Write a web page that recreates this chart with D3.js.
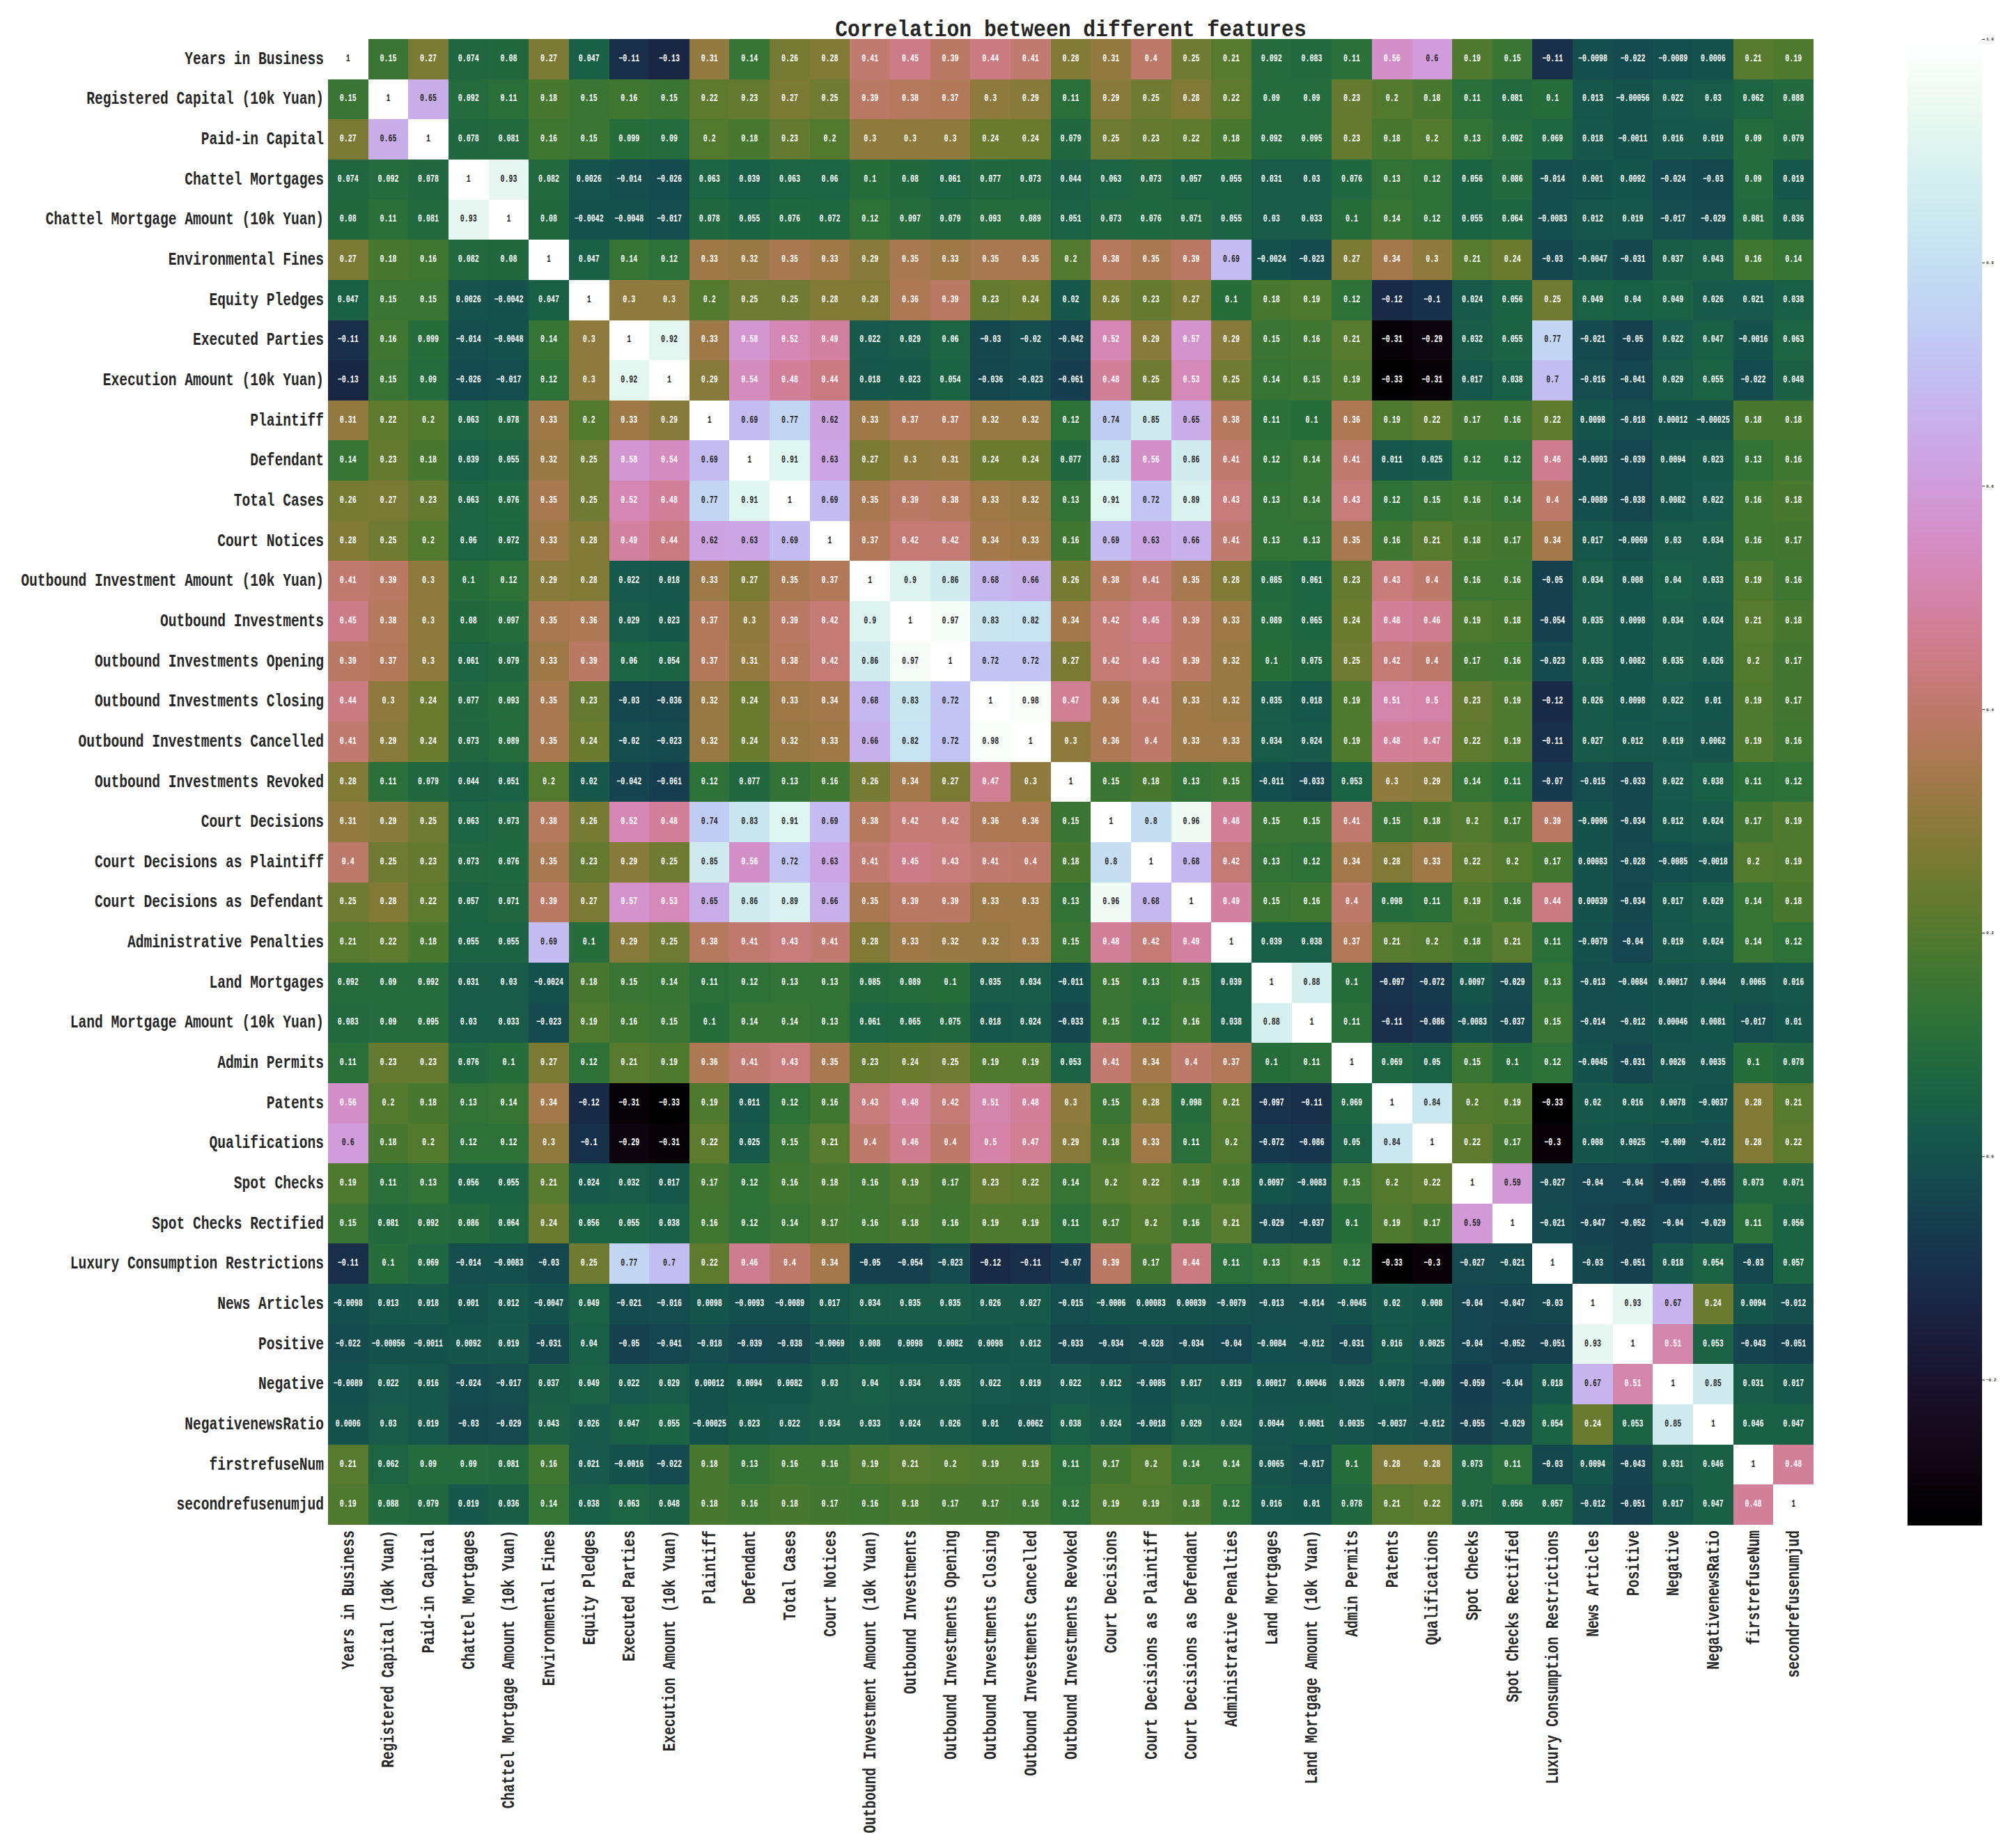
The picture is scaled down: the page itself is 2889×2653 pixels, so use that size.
<!DOCTYPE html>
<html>
<head>
<meta charset="utf-8">
<script src="https://d3js.org/d3.v7.min.js"></script>
<style>
  body { margin: 0; background: #fff; }
  text { font-family: "Liberation Mono", monospace; fill: #262626; }
</style>
</head>
<body>
<div id="chart-container"></div>
<script>
// Correlation heatmap of company features
const features = [
  "Years in Business", "Registered Capital (10k Yuan)", "Paid-in Capital", "Chattel Mortgages",
  "Chattel Mortgage Amount (10k Yuan)", "Environmental Fines", "Equity Pledges", "Executed Parties",
  "Execution Amount (10k Yuan)", "Plaintiff", "Defendant", "Total Cases", "Court Notices",
  "Outbound Investment Amount (10k Yuan)", "Outbound Investments", "Outbound Investments Opening",
  "Outbound Investments Closing", "Outbound Investments Cancelled", "Outbound Investments Revoked",
  "Court Decisions", "Court Decisions as Plaintiff", "Court Decisions as Defendant",
  "Administrative Penalties", "Land Mortgages", "Land Mortgage Amount (10k Yuan)", "Admin Permits",
  "Patents", "Qualifications", "Spot Checks", "Spot Checks Rectified",
  "Luxury Consumption Restrictions", "News Articles", "Positive", "Negative", "NegativenewsRatio",
  "firstrefuseNum", "secondrefusenumjud"
];

const corr = [
  [1,.15,.27,.074,.08,.27,.047,-.11,-.13,.31,.14,.26,.28,.41,.45,.39,.44,.41,.28,.31,.4,.25,.21,.092,.083,.11,.56,.6,.19,.15,-.11,-.0098,-.022,-.0089,.0006,.21,.19],
  [.15,1,.65,.092,.11,.18,.15,.16,.15,.22,.23,.27,.25,.39,.38,.37,.3,.29,.11,.29,.25,.28,.22,.09,.09,.23,.2,.18,.11,.081,.1,.013,-.00056,.022,.03,.062,.088],
  [.27,.65,1,.078,.081,.16,.15,.099,.09,.2,.18,.23,.2,.3,.3,.3,.24,.24,.079,.25,.23,.22,.18,.092,.095,.23,.18,.2,.13,.092,.069,.018,-.0011,.016,.019,.09,.079],
  [.074,.092,.078,1,.93,.082,.0026,-.014,-.026,.063,.039,.063,.06,.1,.08,.061,.077,.073,.044,.063,.073,.057,.055,.031,.03,.076,.13,.12,.056,.086,-.014,.001,.0092,-.024,-.03,.09,.019],
  [.08,.11,.081,.93,1,.08,-.0042,-.0048,-.017,.078,.055,.076,.072,.12,.097,.079,.093,.089,.051,.073,.076,.071,.055,.03,.033,.1,.14,.12,.055,.064,-.0083,.012,.019,-.017,-.029,.081,.036],
  [.27,.18,.16,.082,.08,1,.047,.14,.12,.33,.32,.35,.33,.29,.35,.33,.35,.35,.2,.38,.35,.39,.69,-.0024,-.023,.27,.34,.3,.21,.24,-.03,-.0047,-.031,.037,.043,.16,.14],
  [.047,.15,.15,.0026,-.0042,.047,1,.3,.3,.2,.25,.25,.28,.28,.36,.39,.23,.24,.02,.26,.23,.27,.1,.18,.19,.12,-.12,-.1,.024,.056,.25,.049,.04,.049,.026,.021,.038],
  [-.11,.16,.099,-.014,-.0048,.14,.3,1,.92,.33,.58,.52,.49,.022,.029,.06,-.03,-.02,-.042,.52,.29,.57,.29,.15,.16,.21,-.31,-.29,.032,.055,.77,-.021,-.05,.022,.047,-.0016,.063],
  [-.13,.15,.09,-.026,-.017,.12,.3,.92,1,.29,.54,.48,.44,.018,.023,.054,-.036,-.023,-.061,.48,.25,.53,.25,.14,.15,.19,-.33,-.31,.017,.038,.7,-.016,-.041,.029,.055,-.022,.048],
  [.31,.22,.2,.063,.078,.33,.2,.33,.29,1,.69,.77,.62,.33,.37,.37,.32,.32,.12,.74,.85,.65,.38,.11,.1,.36,.19,.22,.17,.16,.22,.0098,-.018,.00012,-.00025,.18,.18],
  [.14,.23,.18,.039,.055,.32,.25,.58,.54,.69,1,.91,.63,.27,.3,.31,.24,.24,.077,.83,.56,.86,.41,.12,.14,.41,.011,.025,.12,.12,.46,-.0093,-.039,.0094,.023,.13,.16],
  [.26,.27,.23,.063,.076,.35,.25,.52,.48,.77,.91,1,.69,.35,.39,.38,.33,.32,.13,.91,.72,.89,.43,.13,.14,.43,.12,.15,.16,.14,.4,-.0089,-.038,.0082,.022,.16,.18],
  [.28,.25,.2,.06,.072,.33,.28,.49,.44,.62,.63,.69,1,.37,.42,.42,.34,.33,.16,.69,.63,.66,.41,.13,.13,.35,.16,.21,.18,.17,.34,.017,-.0069,.03,.034,.16,.17],
  [.41,.39,.3,.1,.12,.29,.28,.022,.018,.33,.27,.35,.37,1,.9,.86,.68,.66,.26,.38,.41,.35,.28,.085,.061,.23,.43,.4,.16,.16,-.05,.034,.008,.04,.033,.19,.16],
  [.45,.38,.3,.08,.097,.35,.36,.029,.023,.37,.3,.39,.42,.9,1,.97,.83,.82,.34,.42,.45,.39,.33,.089,.065,.24,.48,.46,.19,.18,-.054,.035,.0098,.034,.024,.21,.18],
  [.39,.37,.3,.061,.079,.33,.39,.06,.054,.37,.31,.38,.42,.86,.97,1,.72,.72,.27,.42,.43,.39,.32,.1,.075,.25,.42,.4,.17,.16,-.023,.035,.0082,.035,.026,.2,.17],
  [.44,.3,.24,.077,.093,.35,.23,-.03,-.036,.32,.24,.33,.34,.68,.83,.72,1,.98,.47,.36,.41,.33,.32,.035,.018,.19,.51,.5,.23,.19,-.12,.026,.0098,.022,.01,.19,.17],
  [.41,.29,.24,.073,.089,.35,.24,-.02,-.023,.32,.24,.32,.33,.66,.82,.72,.98,1,.3,.36,.4,.33,.33,.034,.024,.19,.48,.47,.22,.19,-.11,.027,.012,.019,.0062,.19,.16],
  [.28,.11,.079,.044,.051,.2,.02,-.042,-.061,.12,.077,.13,.16,.26,.34,.27,.47,.3,1,.15,.18,.13,.15,-.011,-.033,.053,.3,.29,.14,.11,-.07,-.015,-.033,.022,.038,.11,.12],
  [.31,.29,.25,.063,.073,.38,.26,.52,.48,.74,.83,.91,.69,.38,.42,.42,.36,.36,.15,1,.8,.96,.48,.15,.15,.41,.15,.18,.2,.17,.39,-.0006,-.034,.012,.024,.17,.19],
  [.4,.25,.23,.073,.076,.35,.23,.29,.25,.85,.56,.72,.63,.41,.45,.43,.41,.4,.18,.8,1,.68,.42,.13,.12,.34,.28,.33,.22,.2,.17,.00083,-.028,-.0085,-.0018,.2,.19],
  [.25,.28,.22,.057,.071,.39,.27,.57,.53,.65,.86,.89,.66,.35,.39,.39,.33,.33,.13,.96,.68,1,.49,.15,.16,.4,.098,.11,.19,.16,.44,.00039,-.034,.017,.029,.14,.18],
  [.21,.22,.18,.055,.055,.69,.1,.29,.25,.38,.41,.43,.41,.28,.33,.32,.32,.33,.15,.48,.42,.49,1,.039,.038,.37,.21,.2,.18,.21,.11,-.0079,-.04,.019,.024,.14,.12],
  [.092,.09,.092,.031,.03,-.0024,.18,.15,.14,.11,.12,.13,.13,.085,.089,.1,.035,.034,-.011,.15,.13,.15,.039,1,.88,.1,-.097,-.072,.0097,-.029,.13,-.013,-.0084,.00017,.0044,.0065,.016],
  [.083,.09,.095,.03,.033,-.023,.19,.16,.15,.1,.14,.14,.13,.061,.065,.075,.018,.024,-.033,.15,.12,.16,.038,.88,1,.11,-.11,-.086,-.0083,-.037,.15,-.014,-.012,.00046,.0081,-.017,.01],
  [.11,.23,.23,.076,.1,.27,.12,.21,.19,.36,.41,.43,.35,.23,.24,.25,.19,.19,.053,.41,.34,.4,.37,.1,.11,1,.069,.05,.15,.1,.12,-.0045,-.031,.0026,.0035,.1,.078],
  [.56,.2,.18,.13,.14,.34,-.12,-.31,-.33,.19,.011,.12,.16,.43,.48,.42,.51,.48,.3,.15,.28,.098,.21,-.097,-.11,.069,1,.84,.2,.19,-.33,.02,.016,.0078,-.0037,.28,.21],
  [.6,.18,.2,.12,.12,.3,-.1,-.29,-.31,.22,.025,.15,.21,.4,.46,.4,.5,.47,.29,.18,.33,.11,.2,-.072,-.086,.05,.84,1,.22,.17,-.3,.008,.0025,-.009,-.012,.28,.22],
  [.19,.11,.13,.056,.055,.21,.024,.032,.017,.17,.12,.16,.18,.16,.19,.17,.23,.22,.14,.2,.22,.19,.18,.0097,-.0083,.15,.2,.22,1,.59,-.027,-.04,-.04,-.059,-.055,.073,.071],
  [.15,.081,.092,.086,.064,.24,.056,.055,.038,.16,.12,.14,.17,.16,.18,.16,.19,.19,.11,.17,.2,.16,.21,-.029,-.037,.1,.19,.17,.59,1,-.021,-.047,-.052,-.04,-.029,.11,.056],
  [-.11,.1,.069,-.014,-.0083,-.03,.25,.77,.7,.22,.46,.4,.34,-.05,-.054,-.023,-.12,-.11,-.07,.39,.17,.44,.11,.13,.15,.12,-.33,-.3,-.027,-.021,1,-.03,-.051,.018,.054,-.03,.057],
  [-.0098,.013,.018,.001,.012,-.0047,.049,-.021,-.016,.0098,-.0093,-.0089,.017,.034,.035,.035,.026,.027,-.015,-.0006,.00083,.00039,-.0079,-.013,-.014,-.0045,.02,.008,-.04,-.047,-.03,1,.93,.67,.24,.0094,-.012],
  [-.022,-.00056,-.0011,.0092,.019,-.031,.04,-.05,-.041,-.018,-.039,-.038,-.0069,.008,.0098,.0082,.0098,.012,-.033,-.034,-.028,-.034,-.04,-.0084,-.012,-.031,.016,.0025,-.04,-.052,-.051,.93,1,.51,.053,-.043,-.051],
  [-.0089,.022,.016,-.024,-.017,.037,.049,.022,.029,.00012,.0094,.0082,.03,.04,.034,.035,.022,.019,.022,.012,-.0085,.017,.019,.00017,.00046,.0026,.0078,-.009,-.059,-.04,.018,.67,.51,1,.85,.031,.017],
  [.0006,.03,.019,-.03,-.029,.043,.026,.047,.055,-.00025,.023,.022,.034,.033,.024,.026,.01,.0062,.038,.024,-.0018,.029,.024,.0044,.0081,.0035,-.0037,-.012,-.055,-.029,.054,.24,.053,.85,1,.046,.047],
  [.21,.062,.09,.09,.081,.16,.021,-.0016,-.022,.18,.13,.16,.16,.19,.21,.2,.19,.19,.11,.17,.2,.14,.14,.0065,-.017,.1,.28,.28,.073,.11,-.03,.0094,-.043,.031,.046,1,.48],
  [.19,.088,.079,.019,.036,.14,.038,.063,.048,.18,.16,.18,.17,.16,.18,.17,.17,.16,.12,.19,.19,.18,.12,.016,.01,.078,.21,.22,.071,.056,.057,-.012,-.051,.017,.047,.48,1]
];

const colorbarTicks = [-0.2, 0, 0.2, 0.4, 0.6, 0.8, 1];
const colorDomain = [-0.33, 1];
const chartTitle = "Correlation between different features";

const svgWidth = 2889, svgHeight = 2653;
const left = 471, right = 2604, top_ = 56, bottom = 2189;
const labelPitch = 11.75;   // the labels are narrow, fixed width glyphs

let svg = d3.select("#chart-container")
    .append("svg")
    .attr("width", svgWidth)
    .attr("height", svgHeight)
    .style("display", "block");

let x = d3.scaleBand().domain(features).range([left, right]);
let y = d3.scaleBand().domain(features).range([top_, bottom]);
let color = d3.scaleSequential(d3.interpolateCubehelixDefault).domain(colorDomain);

// seaborn picks the annotation colour from the luminance of the cell
function luminance(c) {
    let rgb = d3.rgb(c);
    let lin = [rgb.r, rgb.g, rgb.b].map(function(v) {
        v = v / 255;
        return v <= 0.03928 ? v / 12.92 : Math.pow((v + 0.055) / 1.055, 2.4);
    });
    return 0.2126 * lin[0] + 0.7152 * lin[1] + 0.0722 * lin[2];
}

let cellData = [];
corr.forEach(function(row, i) {
    row.forEach(function(v, j) {
        cellData.push({row: features[i], col: features[j], value: v});
    });
});

// Draw the cells
svg.append("g").selectAll("rect")
    .data(cellData)
    .enter()
    .append("rect")
    .attr("x", function(d) { return x(d.col); })
    .attr("y", function(d) { return y(d.row); })
    .attr("width", x.bandwidth())
    .attr("height", y.bandwidth())
    .attr("shape-rendering", "crispEdges")
    .attr("fill", function(d) { return color(d.value); });

// Annotations
svg.append("g").selectAll("text")
    .data(cellData)
    .enter()
    .append("text")
    .attr("x", function(d) { return x(d.col) + x.bandwidth() / 2; })
    .attr("y", function(d) { return y(d.row) + y.bandwidth() / 2 - 1; })
    .attr("text-anchor", "middle")
    .attr("dominant-baseline", "central")
    .attr("font-size", 14)
    .attr("font-weight", "bold")
    .attr("lengthAdjust", "spacingAndGlyphs")
    .attr("textLength", function(d) { return String(d.value).length * 6; })
    .style("fill", function(d) { return luminance(color(d.value)) > 0.408 ? "#262626" : "#fff"; })
    .text(function(d) { return String(d.value).replace("-", "\u2212"); });

// Axes
let yAxisG = svg.append("g")
    .attr("transform", `translate(${left},0)`)
    .call(d3.axisLeft(y).tickSize(0).tickPadding(6));
yAxisG.select(".domain").remove();
yAxisG.selectAll("text")
    .attr("font-size", 25)
    .attr("font-weight", "bold")
    .attr("dy", "0.28em")
    .attr("lengthAdjust", "spacingAndGlyphs")
    .attr("textLength", function(d) { return d.length * labelPitch; });

let xAxisG = svg.append("g")
    .attr("transform", `translate(0,${bottom})`)
    .call(d3.axisBottom(x).tickSize(0));
xAxisG.select(".domain").remove();
xAxisG.selectAll("text")
    .attr("font-size", 25)
    .attr("font-weight", "bold")
    .attr("text-anchor", "end")
    .attr("dx", 0)
    .attr("dy", 0)
    .attr("x", 0)
    .attr("y", 0)
    .attr("transform", "translate(8,8) rotate(-90)")
    .attr("lengthAdjust", "spacingAndGlyphs")
    .attr("textLength", function(d) { return d.length * labelPitch; });

// Colorbar
let cbLeft = 2739, cbRight = 2846;
let cbScale = d3.scaleLinear().domain(colorDomain).range([bottom, top_]);
let cbSteps = d3.range(256).map(function(i) {
    return colorDomain[0] + (colorDomain[1] - colorDomain[0]) * i / 255;
});
let cbBand = d3.scaleBand().domain(d3.range(256)).range([bottom, top_]);
svg.append("g").selectAll("rect")
    .data(cbSteps)
    .enter()
    .append("rect")
    .attr("x", cbLeft)
    .attr("y", function(d, i) { return cbBand(i); })
    .attr("width", cbRight - cbLeft)
    .attr("height", cbBand.bandwidth() + 1)
    .attr("fill", function(d) { return color(d); });

let cbAxisG = svg.append("g")
    .attr("transform", `translate(${cbRight},0)`)
    .call(d3.axisRight(cbScale)
        .tickValues(colorbarTicks)
        .tickSize(4)
        .tickPadding(2)
        .tickFormat(d3.format(".1f")));
cbAxisG.select(".domain").remove();
cbAxisG.selectAll("line").attr("stroke", "#262626");
cbAxisG.selectAll("text").attr("font-size", 6).attr("font-weight", "bold");

// Title
svg.append("text")
    .attr("x", (left + right) / 2)
    .attr("y", 52)
    .attr("text-anchor", "middle")
    .attr("font-size", 34)
    .attr("font-weight", "bold")
    .attr("lengthAdjust", "spacingAndGlyphs")
    .attr("textLength", chartTitle.length * 17.8)
    .text(chartTitle);
</script>
</body>
</html>
